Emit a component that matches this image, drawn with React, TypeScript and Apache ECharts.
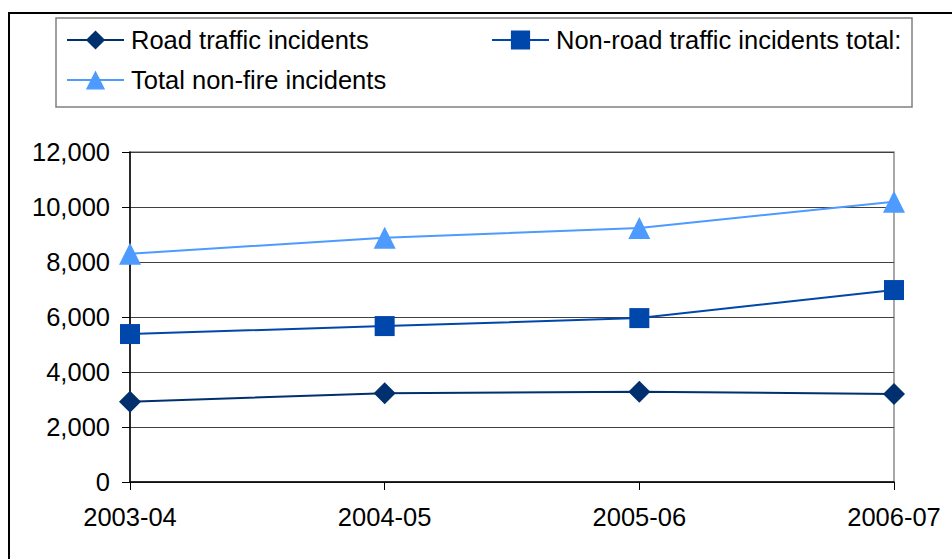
import React, { useEffect, useRef } from "react";
import * as echarts from "echarts";

const categories = ["2003-04", "2004-05", "2005-06", "2006-07"];
const roadTraffic = [2920, 3225, 3285, 3200];
const nonRoadTraffic = [5380, 5670, 5960, 6980];
const totalNonFire = [8300, 8880, 9240, 10190];

const seriesNames = [
  "Road traffic incidents",
  "Non-road traffic incidents total:",
  "Total non-fire incidents",
];
const colors = ["#00306E", "#0047AB", "#4D9BFF"];

export default function App() {
  const ref = useRef<HTMLDivElement>(null);
  useEffect(() => {
    if (!ref.current) return;
    const chart = echarts.init(ref.current, null, { renderer: "svg" });
    const font = "Liberation Sans, Arial, sans-serif";
    const legendCommon = {
      orient: "horizontal" as const,
      itemWidth: 57,
      itemHeight: 24,
      textStyle: { fontSize: 25.5, color: "#000", fontFamily: font, padding: [0, 0, 0, 2] },
      itemGap: 0,
      padding: 0,
      selectedMode: false,
    };
    chart.setOption({
      animation: false,
      backgroundColor: "#fff",
      textStyle: { fontFamily: font },
      legend: [
        { ...legendCommon, left: 66, top: 27, data: [seriesNames[0]] },
        { ...legendCommon, left: 491, top: 27, data: [seriesNames[1]] },
        { ...legendCommon, left: 66, top: 67, data: [seriesNames[2]] },
      ],
      graphic: [
        {
          type: "rect",
          shape: { x: 9, y: 13, width: 1000, height: 1000 },
          style: { fill: "none", stroke: "#000", lineWidth: 2 },
          silent: true,
        },
        {
          type: "rect",
          shape: { x: 56, y: 18, width: 856, height: 89 },
          style: { fill: "none", stroke: "#808080", lineWidth: 1.5 },
          silent: true,
        },
      ],
      grid: {
        left: 130,
        right: 58,
        top: 152,
        bottom: 77,
        show: true,
        borderColor: "#8c8c8c",
        borderWidth: 1.5,
        containLabel: false,
      },
      xAxis: {
        type: "category",
        data: categories,
        boundaryGap: false,
        axisLine: { show: true, lineStyle: { color: "#000", width: 1.5 } },
        axisTick: { show: true, length: 8, alignWithLabel: true, lineStyle: { color: "#000" } },
        axisLabel: { fontSize: 25.5, color: "#000", margin: 22, fontFamily: font },
        splitLine: { show: false },
      },
      yAxis: {
        type: "value",
        min: 0,
        max: 12000,
        interval: 2000,
        axisLine: { show: true, lineStyle: { color: "#000", width: 1.5 } },
        axisTick: { show: true, length: 8, lineStyle: { color: "#000" } },
        axisLabel: {
          fontSize: 25.5,
          color: "#000",
          margin: 20,
          fontFamily: font,
          formatter: (v: number) => v.toLocaleString("en-US"),
        },
        splitLine: { show: true, lineStyle: { color: "#404040", width: 1 } },
      },
      series: [
        {
          name: seriesNames[0],
          type: "line",
          data: roadTraffic,
          symbol: "diamond",
          symbolSize: 22,
          lineStyle: { color: colors[0], width: 2 },
          itemStyle: { color: colors[0] },
        },
        {
          name: seriesNames[1],
          type: "line",
          data: nonRoadTraffic,
          symbol: "rect",
          symbolSize: 20,
          lineStyle: { color: colors[1], width: 2 },
          itemStyle: { color: colors[1] },
        },
        {
          name: seriesNames[2],
          type: "line",
          data: totalNonFire,
          symbol: "triangle",
          symbolSize: 22,
          lineStyle: { color: colors[2], width: 2 },
          itemStyle: { color: colors[2] },
        },
      ],
    });
    return () => chart.dispose();
  }, []);
  return (
    <div
      ref={ref}
      style={{ position: "fixed", left: 0, top: 0, width: 952, height: 559 }}
    />
  );
}
